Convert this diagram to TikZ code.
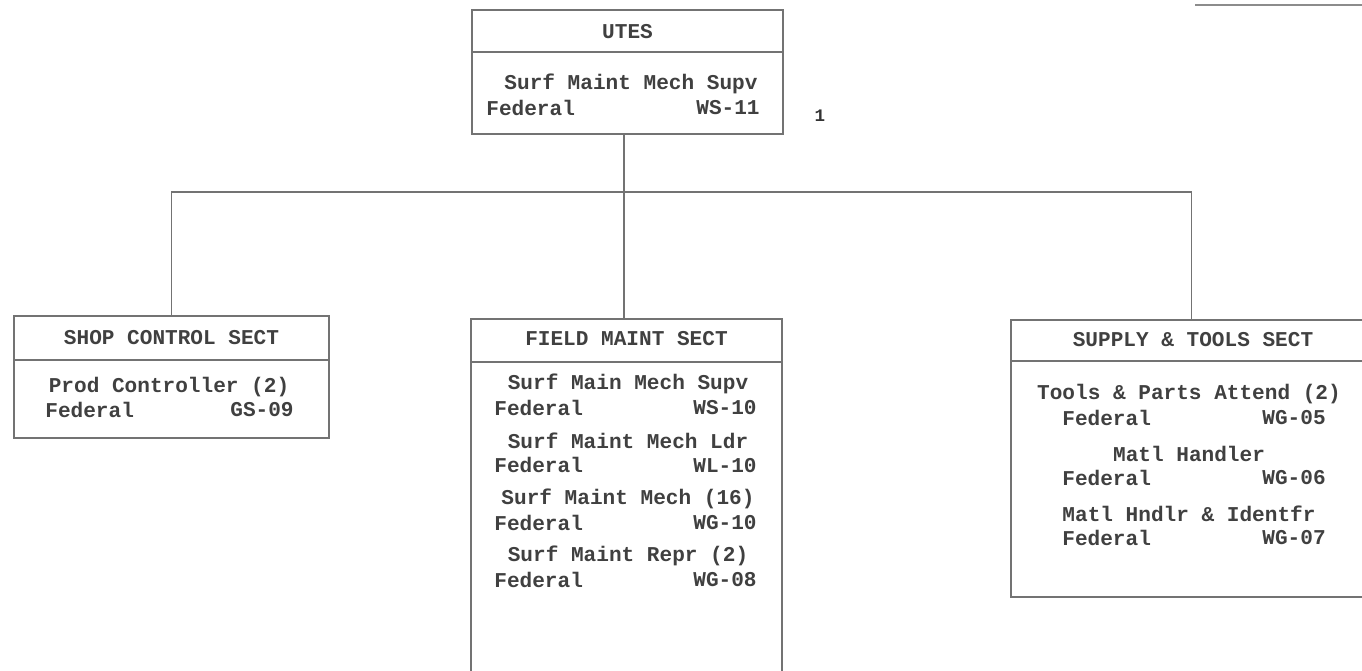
\documentclass[tikz,border=0pt]{standalone}
\usepackage{fontspec}
\setmonofont{Liberation Mono}
\tikzset{
  orgline/.style={draw=black!55,line width=1.1pt},
  orgbox/.style={orgline,rectangle,inner sep=0pt},
  hdr/.style={font=\ttfamily\bfseries\fontsize{12}{14}\selectfont,text=black!75,inner sep=0pt},
  txt/.style={font=\ttfamily\bfseries\fontsize{12}{14}\selectfont,text=black!75,inner sep=0pt},
}
\begin{document}
\begin{tikzpicture}[x=0.02cm,y=-0.02cm]
  \useasboundingbox (0,0) rectangle (1362,671);
  % boxes
  \node[orgbox,minimum width=6.22cm,minimum height=2.48cm] (utes) at (627.5,72) {};
  \node[orgbox,minimum width=6.3cm,minimum height=2.44cm] (shop) at (171.5,377) {};
  \node[orgbox,minimum width=6.22cm,minimum height=7.7cm] (field) at (626.5,511) {};
  \node[orgbox,minimum width=7.22cm,minimum height=5.54cm] (supply) at (1191.5,458.5) {};
  % header rules
  \draw[orgline] (utes.west |- 0,52) -- (utes.east |- 0,52);
  \draw[orgline] (shop.west |- 0,360) -- (shop.east |- 0,360);
  \draw[orgline] (field.west |- 0,362) -- (field.east |- 0,362);
  \draw[orgline] (supply.west |- 0,361) -- (supply.east |- 0,361);
  % connectors
  \coordinate (bus) at (624,192);
  \draw[orgline] (utes.south -| bus) -- (field.north -| bus);
  \draw[orgline] (shop.north) |- (bus) -| (supply.north);
  % top box
  \node[hdr] (utesT) at (627.5,32) {UTES};
  \node[txt] (utes1) at (631,84) {Surf Maint Mech Supv};
  \node[txt,anchor=west] (utesF) at (486,108) {Federal};
  \node[txt,anchor=east] (utesG) at (760,108) {WS-11};
  \node[font=\ttfamily\bfseries\fontsize{10}{12}\selectfont,text=black!80,inner sep=0pt] (note) at (820,116) {1};
  % shop control
  \node[hdr] (shopT) at (171.5,338) {SHOP CONTROL SECT};
  \node[txt] (shop1) at (169,387) {Prod Controller (2)};
  \node[txt,anchor=west] (shopF) at (45,410) {Federal};
  \node[txt,anchor=east] (shopG) at (294,410) {GS-09};
  % field maint
  \node[hdr] (fieldT) at (626.5,339) {FIELD MAINT SECT};
  \foreach \t/\g [count=\i] in {Surf Main Mech Supv/WS-10, Surf Maint Mech Ldr/WL-10,
      Surf Maint Mech (16)/WG-10, Surf Maint Repr (2)/WG-08} {
    \pgfmathsetmacro{\yy}{384+57.3*(\i-1)}
    \node[txt] (fm\i) at (628,\yy) {\t};
    \node[txt,anchor=west] (fmF\i) at (494,\yy+24) {Federal};
    \node[txt,anchor=east] (fmG\i) at (757,\yy+24) {\g};
  }
  % supply & tools
  \node[hdr] (supT) at (1193,340) {SUPPLY \& TOOLS SECT};
  \foreach \t/\g [count=\i] in {Tools \& Parts Attend (2)/WG-05, Matl Handler/WG-06,
      Matl Hndlr \& Identfr/WG-07} {
    \pgfmathsetmacro{\yy}{394+60*(\i-1)}
    \node[txt] (st\i) at (1189,\yy) {\t};
    \node[txt,anchor=west] (stF\i) at (1062,\yy+24) {Federal};
    \node[txt,anchor=east] (stG\i) at (1326,\yy+24) {\g};
  }
  % scan edge
  \draw[draw=black!45,line width=0.9pt] (1195,5) -- (1362,5);
\end{tikzpicture}
\end{document}
